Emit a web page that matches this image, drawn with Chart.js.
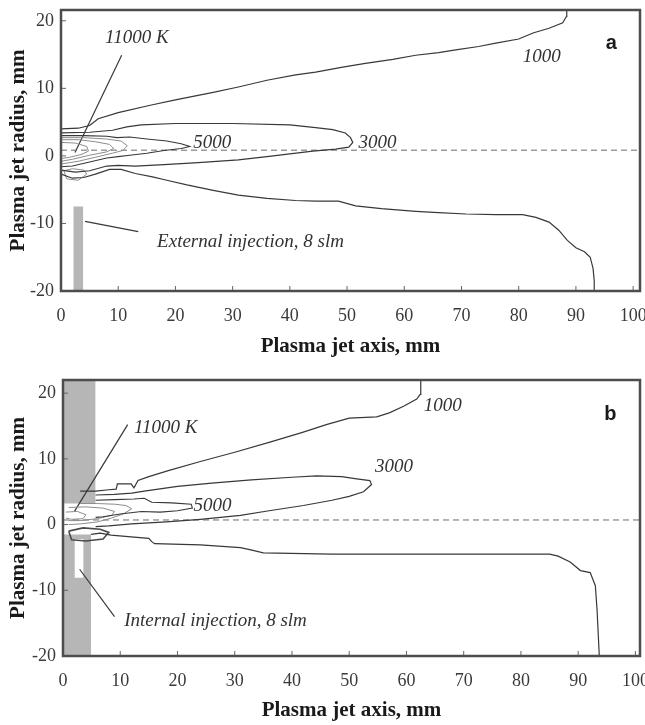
<!DOCTYPE html>
<html lang="en">
<head>
<meta charset="UTF-8">
<title>Plasma jet isotherms</title>
<script src="https://cdn.jsdelivr.net/npm/chart.js"></script>
<style>
  html, body { margin: 0; padding: 0; background: #fff; }
  #wrap { position: relative; width: 645px; height: 725px; }
  canvas { position: absolute; left: 0; }
  #chartA { top: 0; }
  #chartB { top: 365px; }
</style>
</head>
<body>
<div id="wrap">
  <canvas id="chartA" width="645" height="365"></canvas>
  <canvas id="chartB" width="645" height="360"></canvas>
</div>
<script>
// axis ticks (mm)
const xTicks = [0, 10, 20, 30, 40, 50, 60, 70, 80, 90, 100];
const yTicks = [-20, -10, 0, 10, 20];

// (a) external injection – isotherms as [axis, radius] in mm
const a1000Upper = [[0,4.0],[3,4.1],[5,4.5],[6.5,5.5],[10,6.4],[15.6,7.5],[20,8.3],[26.6,9.4],[31,10.2],[36,11.2],[41,12],[44.5,12.4],[49,13.1],[53.2,13.7],[58,14.3],[62,14.9],[66,15.3],[69,15.7],[73,16.2],[76,16.7],[80,17.3],[82.5,18.2],[85.3,18.9],[87.7,19.7],[88.3,20.6],[88.4,21.6]];
const a1000Lower = [[0,-2.7],[2,-3.3],[4,-3.2],[6,-2.7],[8.5,-2.0],[10.5,-2.0],[13,-2.6],[16,-3.1],[18.5,-3.6],[22,-4.3],[26.6,-5.1],[31,-5.8],[36,-6.3],[41,-6.6],[44.5,-6.7],[48.5,-6.7],[51.5,-7.4],[56,-7.8],[62,-8.2],[66,-8.4],[70.8,-8.6],[76,-8.7],[80.7,-8.7],[83,-9.1],[85.3,-9.8],[87,-11],[88.5,-12.5],[90,-13.6],[91.5,-14.2],[92.5,-15],[93,-16.7],[93.2,-18.5],[93.2,-20.2]];
const a3000 = [[0,3.4],[5,3.5],[9,3.8],[11.5,4.3],[14,4.6],[20,4.8],[30,4.8],[40,4.6],[44.5,4.2],[47.5,3.9],[49.7,3.4],[50.6,2.7],[51,2.0],[50.3,1.3],[48,1.0],[44,0.7],[40,0.3],[36,-0.1],[31,-0.6],[24,-1.0],[18,-1.3],[13,-1.5],[10,-1.4],[8,-1.5],[5,-2.2],[2.5,-2.4],[0,-2.1]];
const a5000 = [[0,3.0],[4,3.0],[8,2.9],[9.8,2.7],[12,2.8],[15,2.5],[18.5,2.2],[21,1.8],[22.5,1.4],[21,1.1],[18,0.8],[15,0.4],[12,0.1],[10,-0.1],[8,-0.3],[5,-0.9],[2,-1.5],[0,-1.6]];
const a7000 = [[0,2.7],[4,2.7],[8,2.5],[10.5,2.2],[11.6,1.5],[10.8,0.8],[9,0.4],[6,-0.2],[3,-0.8],[0,-1.2]];
const a9000 = [[0,2.4],[3,2.4],[6,2.1],[8.5,1.7],[9.2,1.1],[8,0.6],[5,0.1],[2,-0.5],[0,-0.8]];
const a11000 = [[0,2.0],[2.5,1.9],[4.5,1.4],[4.8,0.7],[3.5,0.2],[1.5,-0.2],[0,-0.4]];
const aEdgeLoop = [[0.5,-2.2],[2,-1.9],[4,-2.1],[4.5,-2.7],[3,-3.6],[1,-3.4],[0.5,-2.2]];
const aInjectorX = [2.15, 3.9];
const aInjectorY = [-20.5, -7.5];

// (b) internal injection
const b1000Upper = [[3.0,5.1],[5.7,5.1],[8,5.3],[9.3,5.4],[9.5,6.2],[11.9,6.2],[12.4,5.6],[13.1,6.7],[15,7.3],[18.4,8.2],[24,9.6],[30,11],[36,12.5],[41.7,14],[46,15.2],[50,16.2],[54.8,16.4],[57,17],[59.5,18],[61.8,19.1],[62.4,19.8],[62.5,22]];
const b1000Lower = [[4.9,-1.5],[6.5,-1.3],[8.4,-1.6],[12.4,-1.9],[15,-2.1],[15.5,-2.6],[16,-2.9],[24,-3.1],[31,-3.5],[33,-3.9],[35,-4.3],[47,-4.5],[60,-4.5],[75,-4.5],[85,-4.5],[86.5,-4.8],[88.6,-5.7],[90.4,-7],[92.1,-7.3],[93,-9.3],[93.3,-13],[93.7,-20.2]];
const b3000 = [[5.7,4.5],[9,4.6],[12,4.8],[14.2,5.1],[20,5.8],[26,6.3],[32.9,6.8],[40,7.2],[44.3,7.4],[48.7,7.3],[51,7.0],[53.6,6.7],[53.9,6.1],[52.5,5.0],[50,4.3],[47,3.7],[42,2.9],[36,2.1],[31,1.4],[24,0.8],[18,0.4],[12,0.1],[8,-0.2],[5.7,-0.3]];
const b5000 = [[5.7,3.7],[9,3.8],[12.4,3.9],[14.2,4.0],[15.5,3.4],[19,3.3],[22.4,3.1],[22.6,2.5],[20,2.1],[17,1.9],[13.7,2.0],[10,1.6],[7,1.2],[5.7,1.1]];
const b7000 = [[3,3.2],[6,3.2],[9,3.1],[11,2.9],[12,2.4],[10.5,1.6],[8.5,1.0],[6,0.4],[3,0.1],[1,0]];
const b9000 = [[1,2.6],[4,2.7],[7,2.5],[9,2.0],[8.5,1.4],[6,0.9],[3,0.6],[1,0.6]];
const b11000 = [[0.5,1.9],[2.5,2.0],[4,1.5],[3.5,0.9],[1.5,0.8],[0.5,1.0]];
const bCoreLoop = [[1,-1.0],[3.5,-0.5],[6.5,-0.7],[8,-1.2],[7,-2.2],[4,-2.5],[1.5,-2.3],[1,-1.0]];
const bTorchX = [0, 5.7];
const bTorchY = [3.2, 22.5];
const bNozzleX = [0, 4.9];
const bNozzleY = [-20.5, -1.5];
const bPortX = [2.0, 3.6];
const bPortY = [-8.1, -2.2];

// jet centre line
const centreA = [[0,0.85],[102,0.85]];
const centreB = [[0,0.7],[102,0.7]];

// pointer lines for the callouts
const aPtr11000 = [[10.6,14.9],[2.45,0.5]];
const aPtrInj = [[4.2,-9.7],[13.5,-11.2]];
const bPtr11000 = [[11.3,15.2],[2.0,2.0]];
const bPtrInj = [[2.9,-6.8],[9.0,-14.0]];

const SERIF = '"Liberation Serif", "Times New Roman", serif';
const NOTE = 'italic 19px ' + SERIF;
const TAG = 'bold 20px "Liberation Sans", Arial, sans-serif';

// frame and inward tick marks
const framePlugin = {
  id: 'frame',
  afterDatasetsDraw(chart) {
    const {ctx, chartArea: a, scales: {x, y}} = chart;
    ctx.save();
    ctx.strokeStyle = '#666';
    ctx.lineWidth = 1;
    ctx.beginPath();
    x.ticks.forEach(t => {
      const px = x.getPixelForValue(t.value);
      ctx.moveTo(px, a.bottom); ctx.lineTo(px, a.bottom - 5);
    });
    y.ticks.forEach(t => {
      const py = y.getPixelForValue(t.value);
      ctx.moveTo(a.left, py); ctx.lineTo(a.left + 5, py);
    });
    ctx.stroke();
    ctx.lineWidth = 2.5;
    ctx.strokeStyle = '#4d4d4d';
    ctx.strokeRect(a.left, a.top, a.right - a.left, a.bottom - a.top);
    ctx.restore();
  }
};

// text placed in data coordinates
const notesPlugin = {
  id: 'notes',
  afterDatasetsDraw(chart, args, opts) {
    const {ctx, scales: {x, y}} = chart;
    ctx.save();
    (opts.items || []).forEach(n => {
      ctx.font = n.font;
      ctx.fillStyle = n.color || '#333';
      ctx.textAlign = n.align || 'left';
      ctx.textBaseline = 'middle';
      ctx.fillText(n.text, x.getPixelForValue(n.x), y.getPixelForValue(n.y));
    });
    ctx.restore();
  }
};

const line = (pts, color, width, dash) => ({
  data: pts.map(([x, y]) => ({x, y})),
  borderColor: color, borderWidth: width, borderDash: dash || [],
  pointRadius: 0, fill: false, tension: 0, order: 0
});

const block = (xs, ys, color, order) => ({
  data: [{x: xs[0], y: ys[1]}, {x: xs[1], y: ys[1]}],
  borderColor: 'rgba(0,0,0,0)', borderWidth: 0, backgroundColor: color,
  pointRadius: 0, fill: {value: ys[0]}, tension: 0, order
});

function isoChart(id, cfg) {
  return new Chart(document.getElementById(id), {
    type: 'line',
    data: {datasets: cfg.datasets},
    plugins: [framePlugin, notesPlugin],
    options: {
      responsive: false,
      animation: false,
      layout: {padding: {top: cfg.top, right: 5, left: 0, bottom: 0}},
      plugins: {
        legend: {display: false},
        tooltip: {enabled: false},
        notes: {items: cfg.notes}
      },
      scales: {
        x: {
          type: 'linear', min: 0, max: cfg.xMax,
          afterBuildTicks: s => { s.ticks = xTicks.map(v => ({value: v})); },
          afterFit: s => { s.height = cfg.xHeight; s.paddingLeft = 0; s.paddingRight = 0; },
          grid: {display: false, drawTicks: false},
          border: {display: false},
          ticks: {padding: 16, color: '#3a3a3a', font: {family: SERIF, size: 18, lineHeight: 1}},
          title: {display: true, text: 'Plasma jet axis, mm', color: '#1a1a1a',
                  font: {family: SERIF, size: 21, weight: 'bold'}, padding: {top: 0, bottom: cfg.titlePad}}
        },
        y: {
          type: 'linear', min: cfg.yMin, max: cfg.yMax,
          afterBuildTicks: s => { s.ticks = yTicks.map(v => ({value: v})); },
          afterFit: s => { s.width = cfg.yWidth; s.paddingTop = 0; s.paddingBottom = 0; },
          grid: {display: false, drawTicks: false},
          border: {display: false},
          ticks: {padding: 7, color: '#3a3a3a', font: {family: SERIF, size: 18, lineHeight: 1}},
          title: {display: true, text: 'Plasma jet radius, mm', color: '#1a1a1a',
                  font: {family: SERIF, size: 21, weight: 'bold'}, padding: {top: 6, bottom: 0}}
        }
      }
    }
  });
}

const DARK = '#383838';
const SOFT = '#8c8c8c';
const FILL = '#b6b6b6';

isoChart('chartA', {
  top: 10, xMax: 101.2, yMin: -20, yMax: 21.6, yWidth: 61, xHeight: 74, titlePad: 6,
  datasets: [
    line(a1000Upper, DARK, 1.2),
    line(a1000Lower, DARK, 1.2),
    line(a3000, DARK, 1.2),
    line(a5000, DARK, 1.1),
    line(a7000, SOFT, 1),
    line(a9000, SOFT, 1),
    line(a11000, SOFT, 1),
    line(aEdgeLoop, SOFT, 1),
    line(centreA, '#6a6a6a', 1, [6, 4]),
    line(aPtr11000, DARK, 1.2),
    line(aPtrInj, DARK, 1.2),
    block(aInjectorX, aInjectorY, FILL, 10)
  ],
  notes: [
    {text: '11000 K', x: 7.7, y: 17.5, font: NOTE},
    {text: '5000', x: 23.1, y: 1.9, font: NOTE},
    {text: '3000', x: 52.0, y: 1.9, font: NOTE},
    {text: '1000', x: 80.7, y: 14.6, font: NOTE},
    {text: 'External injection, 8 slm', x: 16.8, y: -12.7, font: NOTE},
    {text: 'a', x: 96.2, y: 16.6, font: TAG, align: 'center', color: '#1a1a1a'}
  ]
});

isoChart('chartB', {
  top: 15, xMax: 100.8, yMin: -20, yMax: 22, yWidth: 63, xHeight: 69, titlePad: 2,
  datasets: [
    line(b1000Upper, DARK, 1.2),
    line(b1000Lower, DARK, 1.2),
    line(b3000, DARK, 1.2),
    line(b5000, DARK, 1.1),
    line(b7000, SOFT, 1),
    line(b9000, SOFT, 1),
    line(b11000, SOFT, 1),
    line(bCoreLoop, '#4a4a4a', 1.6),
    line(centreB, '#6a6a6a', 1, [6, 4]),
    line(bPtr11000, DARK, 1.2),
    line(bPtrInj, DARK, 1.2),
    block(bPortX, bPortY, '#ffffff', 5),
    block(bTorchX, bTorchY, FILL, 10),
    block(bNozzleX, bNozzleY, FILL, 10)
  ],
  notes: [
    {text: '11000 K', x: 12.4, y: 14.7, font: NOTE},
    {text: '5000', x: 22.8, y: 2.9, font: NOTE},
    {text: '3000', x: 54.5, y: 8.7, font: NOTE},
    {text: '1000', x: 63.0, y: 18.0, font: NOTE},
    {text: 'Internal injection, 8 slm', x: 10.7, y: -14.7, font: NOTE},
    {text: 'b', x: 95.6, y: 16.8, font: TAG, align: 'center', color: '#1a1a1a'}
  ]
});
</script>
</body>
</html>
